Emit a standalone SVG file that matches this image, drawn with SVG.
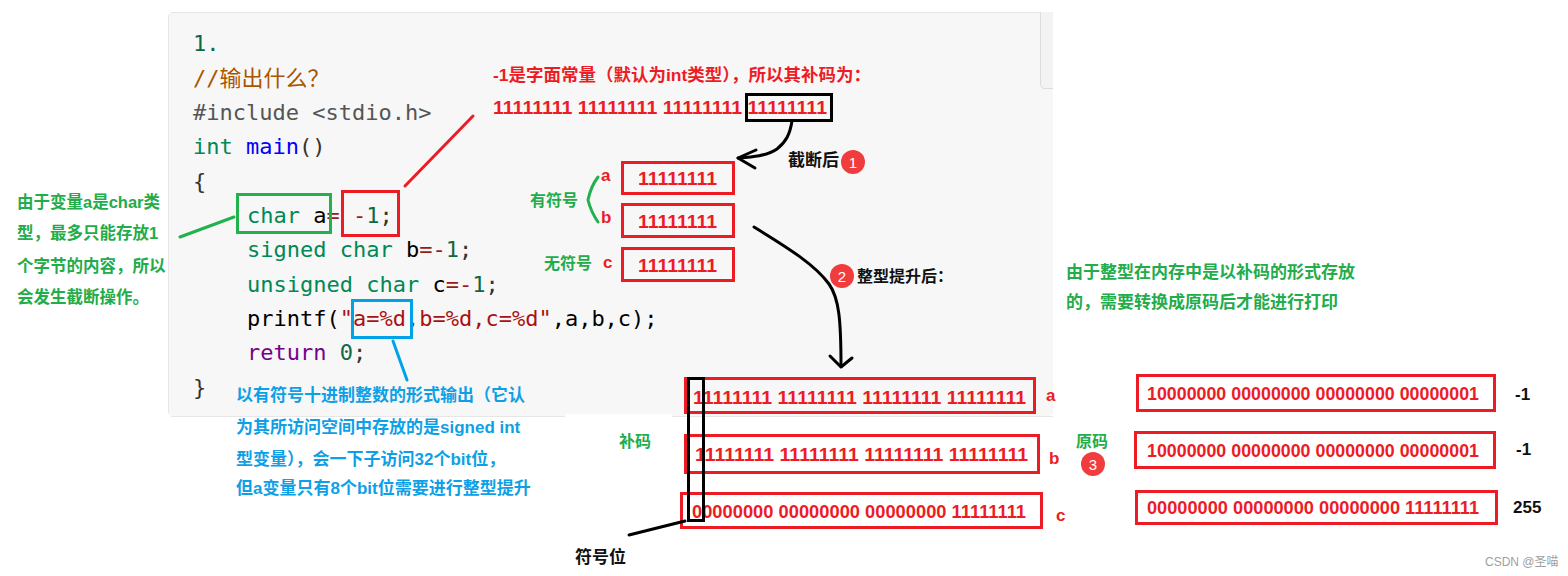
<svg xmlns="http://www.w3.org/2000/svg" width="1568" height="576" viewBox="0 0 1568 576">
<defs>
<style>
.code{font-family:"DejaVu Sans Mono","Noto Sans CJK SC",monospace;font-size:22px}
.cn{font-family:"Liberation Sans","Noto Sans CJK SC",sans-serif;font-weight:bold}
.dig{font-family:"Liberation Sans","Noto Sans CJK SC",sans-serif;font-weight:bold;font-size:19px;fill:#ed1c24}
.red{fill:#ed1c24}
.grn{fill:#22ac4a}
.blu{fill:#0ea0e6}
.blk{fill:#111}
.rbox{fill:none;stroke:#ed1c24;stroke-width:3}
.kbox{fill:none;stroke:#000;stroke-width:3}
.badge{fill:#f03c3c}
.btxt{font-family:"Liberation Sans",sans-serif;font-size:15px;fill:#fff;text-anchor:middle}
.con{fill:none;stroke-width:3;stroke-linecap:round;stroke-linejoin:round}
</style>
</defs>
<rect x="0" y="0" width="1568" height="576" fill="#ffffff"/>
<g id="code-panel">
<rect x="168" y="12" width="885" height="404" rx="4" fill="#f7f7f7"/>
<path d="M171,12.5 H1053 M168.5,15 V413 M171,416.5 H1053" stroke="#e6e6e6" stroke-width="1" fill="none"/>
<rect x="1040.5" y="12" width="12.5" height="76" fill="#f3f3f3"/>
<path d="M1040.5,12 V85 L1043,88.5 H1053" stroke="#dcdcdc" stroke-width="1" fill="none"/>
<rect x="565" y="414" width="107" height="5" fill="#ffffff"/>
<g class="code" xml:space="preserve">
<text x="193" y="51" fill="#116644">1.</text>
<text x="193" y="85.5" fill="#aa5500">//输出什么？</text>
<text x="193" y="120" fill="#555555">#include &lt;stdio.h&gt;</text>
<text x="193" y="154"><tspan fill="#008855">int</tspan> <tspan fill="#0000ff">main</tspan><tspan fill="#333">()</tspan></text>
<text x="193" y="188.5" fill="#333">{</text>
<text x="247" y="223"><tspan fill="#008855">char</tspan><tspan fill="#000"> a</tspan><tspan fill="#981a1a">=</tspan> <tspan fill="#981a1a">-</tspan><tspan fill="#116644">1</tspan><tspan fill="#333">;</tspan></text>
<text x="247" y="257"><tspan fill="#008855">signed char</tspan><tspan fill="#000"> b</tspan><tspan fill="#981a1a">=-</tspan><tspan fill="#116644">1</tspan><tspan fill="#333">;</tspan></text>
<text x="247" y="291.5"><tspan fill="#008855">unsigned char</tspan><tspan fill="#000"> c</tspan><tspan fill="#981a1a">=-</tspan><tspan fill="#116644">1</tspan><tspan fill="#333">;</tspan></text>
<text x="247" y="326"><tspan fill="#000">printf(</tspan><tspan fill="#aa1111">"a=%d,b=%d,c=%d"</tspan><tspan fill="#000">,a,b,c);</tspan></text>
<text x="247" y="360"><tspan fill="#770088">return</tspan> <tspan fill="#116644">0</tspan><tspan fill="#333">;</tspan></text>
<text x="193" y="394.5" fill="#333">}</text>
</g>
</g>
<g id="highlight-char-a"><rect x="237.5" y="194.5" width="93" height="38" fill="none" stroke="#22b14c" stroke-width="3"/></g>
<g id="highlight-minus1"><rect x="342.5" y="191.5" width="56" height="44" class="rbox"/></g>
<g id="highlight-format"><rect x="352.5" y="300.5" width="59" height="37" fill="none" stroke="#00a2e8" stroke-width="3"/></g>
<g id="note-truncate">
<text class="cn grn" font-size="16.5"><tspan x="17" y="208">由于变量a是char类</tspan><tspan x="17" y="239">型，最多只能存放1</tspan><tspan x="17" y="272">个字节的内容，所以</tspan><tspan x="17" y="303">会发生截断操作。</tspan></text>
</g>
<g id="note-format">
<text class="cn blu" font-size="17"><tspan x="236" y="401">以有符号十进制整数的形式输出（它认</tspan><tspan x="236" y="433">为其所访问空间中存放的是signed int</tspan><tspan x="236" y="465">型变量），会一下子访问32个bit位，</tspan><tspan x="236" y="494">但a变量只有8个bit位需要进行整型提升</tspan></text>
</g>
<g id="note-literal">
<text class="cn red" font-size="17" x="493" y="81" textLength="378" lengthAdjust="spacingAndGlyphs">-1是字面常量（默认为int类型），所以其补码为：</text>
<text class="dig" x="493" y="114" textLength="334" lengthAdjust="spacingAndGlyphs">11111111 11111111 11111111 11111111</text>
<rect x="746.5" y="94.5" width="85" height="26" class="kbox"/>
</g>
<g id="truncated">
<text class="cn blk" font-size="17" x="788" y="166">截断后</text>
<circle cx="853" cy="162" r="12" class="badge"/><text class="btxt" x="853" y="167.5">1</text>
<text class="cn grn" font-size="16" x="530" y="206">有符号</text>
<text class="cn grn" font-size="16" x="544" y="269">无符号</text>
<text class="cn red" font-size="17" x="601" y="181">a</text>
<text class="cn red" font-size="17" x="601" y="223">b</text>
<text class="cn red" font-size="17" x="603" y="268">c</text>
<path d="M598,177 Q591,186 588,200 Q591,212 598,222" class="con" stroke="#22b14c"/>
</g>
<g id="box-a-8"><rect x="622.5" y="162.5" width="111" height="31" class="rbox"/><text class="dig" x="638" y="184.5" textLength="79" lengthAdjust="spacingAndGlyphs">11111111</text></g>
<g id="box-b-8"><rect x="622.5" y="204.5" width="111" height="32" class="rbox"/><text class="dig" x="638" y="227.5" textLength="79" lengthAdjust="spacingAndGlyphs">11111111</text></g>
<g id="box-c-8"><rect x="622.5" y="248.5" width="111" height="32" class="rbox"/><text class="dig" x="638" y="271.5" textLength="79" lengthAdjust="spacingAndGlyphs">11111111</text></g>
<g id="promoted">
<circle cx="842" cy="276" r="12" class="badge"/><text class="btxt" x="842" y="281.5">2</text>
<text class="cn blk" font-size="16" x="857" y="282">整型提升后：</text>
</g>
<g id="note-memory">
<text class="cn grn" font-size="17"><tspan x="1066" y="278">由于整型在内存中是以补码的形式存放</tspan><tspan x="1066" y="308">的，需要转换成原码后才能进行打印</tspan></text>
</g>
<g id="complement-a"><rect x="685.5" y="378.5" width="349" height="34" class="rbox"/><text class="dig" font-size="20" x="693" y="404" textLength="333" lengthAdjust="spacingAndGlyphs">11111111 11111111 11111111 11111111</text><text class="cn red" font-size="17" x="1046" y="401">a</text></g>
<g id="complement-b"><rect x="685.5" y="435.5" width="353" height="37" class="rbox"/><text class="dig" font-size="20" x="695" y="461" textLength="333" lengthAdjust="spacingAndGlyphs">11111111 11111111 11111111 11111111</text><text class="cn red" font-size="17" x="1049" y="464">b</text></g>
<g id="complement-c"><rect x="681.5" y="493.5" width="360" height="34" class="rbox"/><text class="dig" font-size="20" x="692" y="518" textLength="334" lengthAdjust="spacingAndGlyphs">00000000 00000000 00000000 11111111</text><text class="cn red" font-size="17" x="1056" y="521">c</text></g>
<g id="sign-bit"><rect x="688.5" y="378.5" width="15" height="142" class="kbox"/><text class="cn blk" font-size="17" x="575" y="563">符号位</text></g>
<g id="label-complement"><text class="cn grn" font-size="16" x="619" y="447">补码</text></g>
<g id="label-original"><text class="cn grn" font-size="16" x="1076" y="447">原码</text><circle cx="1093" cy="464" r="12" class="badge"/><text class="btxt" x="1093" y="469.5">3</text></g>
<g id="original-a"><rect x="1137.5" y="375.5" width="357" height="35" class="rbox"/><text class="dig" x="1147" y="399.5" textLength="332" lengthAdjust="spacingAndGlyphs">10000000 00000000 00000000 00000001</text><text class="cn blk" font-size="17" x="1515" y="400">-1</text></g>
<g id="original-b"><rect x="1135.5" y="432.5" width="359" height="35" class="rbox"/><text class="dig" x="1147" y="457" textLength="332" lengthAdjust="spacingAndGlyphs">10000000 00000000 00000000 00000001</text><text class="cn blk" font-size="17" x="1516" y="455">-1</text></g>
<g id="original-c"><rect x="1136.5" y="491.5" width="360" height="32" class="rbox"/><text class="dig" x="1147" y="514" textLength="332" lengthAdjust="spacingAndGlyphs">00000000 00000000 00000000 11111111</text><text class="cn blk" font-size="17" x="1513" y="513">255</text></g>
<g id="connectors">
<path d="M180,237 L234,217" class="con" stroke="#22b14c"/>
<path d="M405,186 L473,116" class="con" stroke="#ed1c24"/>
<path d="M393,341 L407,380" class="con" stroke="#00a2e8"/>
<path d="M792,121 C790,134 786,142 777,149 C767,156 752,157 738,158" class="con" stroke="#000"/>
<path d="M756,150 L738,158 L755,168" class="con" stroke="#000"/>
<path d="M754,227 C790,249 815,265 829,284 C839,298 841,320 841,366" class="con" stroke="#000"/>
<path d="M830,356 L841,367 L852,358" class="con" stroke="#000"/>
<path d="M685,521 L629,535" class="con" stroke="#000"/>
</g>
<text x="1485" y="566" font-family="'Liberation Sans','Noto Sans CJK SC',sans-serif" font-size="12" fill="#a0a0a0">CSDN @圣喵</text>
</svg>
